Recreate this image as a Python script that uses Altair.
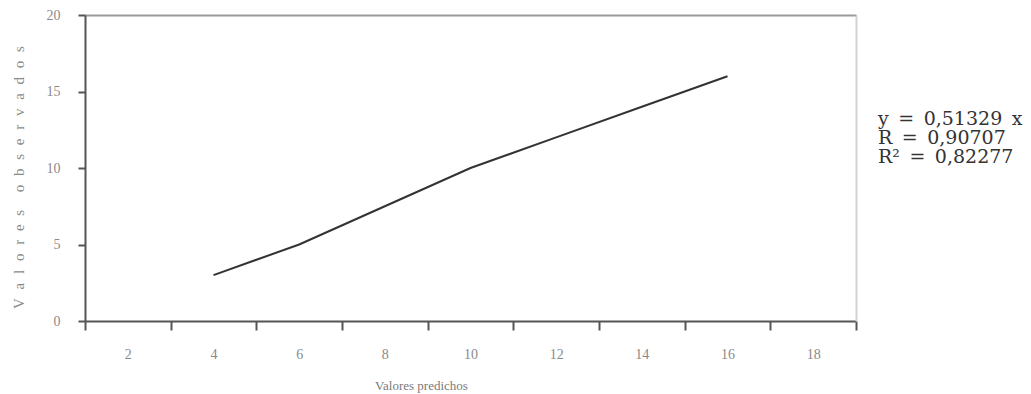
import altair as alt
import pandas as pd

# data
predichos = [4, 6, 8, 10, 12, 14, 16]
observados = [3, 5, 7.5, 10, 12, 14, 16]
x_ticks = [1, 3, 5, 7, 9, 11, 13, 15, 17, 19]
x_labels = [2, 4, 6, 8, 10, 12, 14, 16, 18]
y_ticks = [0, 5, 10, 15, 20]
S = "\u2002"
stats_lines = [f"y{S}={S}0,51329{S}x", f"R{S}={S}0,90707", f"R²{S}={S}0,82277"]

df = pd.DataFrame({"pred": predichos, "obs": observados})
stats = pd.DataFrame({"txt": ["\n".join(stats_lines)]})

W, H = 771, 306
SERIF = "Liberation Serif"
sp = "\u2002\u200a"
ytitle = (sp + sp).join(sp.join(list(w)) for w in "Valores observados".split(" "))

xscale = alt.Scale(domain=[1, 19], nice=False, zero=False)
yscale = alt.Scale(domain=[0, 20], nice=False)

all_x = sorted(x_ticks + x_labels)

base = alt.Chart(df).mark_line(color="#333333", strokeWidth=2).encode(
    x=alt.X("pred:Q", scale=xscale, axis=alt.Axis(
        orient="bottom", values=all_x, grid=False,
        title="Valores predichos", titleFont=SERIF, titleFontSize=13,
        titleFontWeight="normal", titleColor="#7a7a7a",
        titleX=336, titleY=64, titleBaseline="middle", titleAlign="center",
        labelExpr="datum.value % 2 == 0 ? datum.label : ''",
        labelFont=SERIF, labelFontSize=14, labelColor="#8a8a8a",
        labelPadding=17, labelFlush=False, labelOverlap=False,
        tickSize=9, tickWidth=2, tickColor="#555555",
        tickOpacity={"condition": {"test": "datum.value % 2 == 0", "value": 0}, "value": 1},
        domainColor="#555555", domainWidth=2)),
    y=alt.Y("obs:Q", scale=yscale, axis=alt.Axis(
        orient="left", values=y_ticks, grid=False,
        title=ytitle, titleFont=SERIF, titleFontSize=15,
        titleFontWeight="normal", titleColor="#8a8a8a",
        titleX=-67, titleY=162, titleAngle=-90, titleBaseline="middle", titleAlign="center",
        labelFont=SERIF, labelFontSize=14, labelColor="#8a8a8a",
        labelPadding=18, labelFlush=False,
        tickSize=7, tickWidth=2, tickColor="#555555",
        domainColor="#555555", domainWidth=2)),
)

frame = alt.Chart(df).mark_line(opacity=0).encode(
    x=alt.X("pred:Q", scale=xscale, axis=alt.Axis(
        orient="top", labels=False, ticks=False, title=None, grid=False,
        domainColor="#9a9a9a", domainWidth=2)),
    y=alt.Y("obs:Q", scale=yscale, axis=alt.Axis(
        orient="right", labels=False, ticks=False, title=None, grid=False,
        domainColor="#d2d2d2", domainWidth=2)),
)

txt = alt.Chart(stats).mark_text(
    font="DejaVu Serif", fontSize=19, color="#333333", align="left", baseline="alphabetic",
    lineBreak="\n", lineHeight=19
).encode(
    text="txt:N",
    x=alt.value(W + 22),
    y=alt.value(110),
)

chart = alt.layer(base, frame, txt).resolve_axis(x="independent", y="independent").properties(
    width=W, height=H,
    autosize=alt.AutoSizeParams(type="none"),
    padding={"left": 77, "top": 7, "right": 167, "bottom": 72},
).configure_view(stroke=None).configure(background="white")

chart.save("out.html", embed_options={"renderer": "svg", "actions": False})
